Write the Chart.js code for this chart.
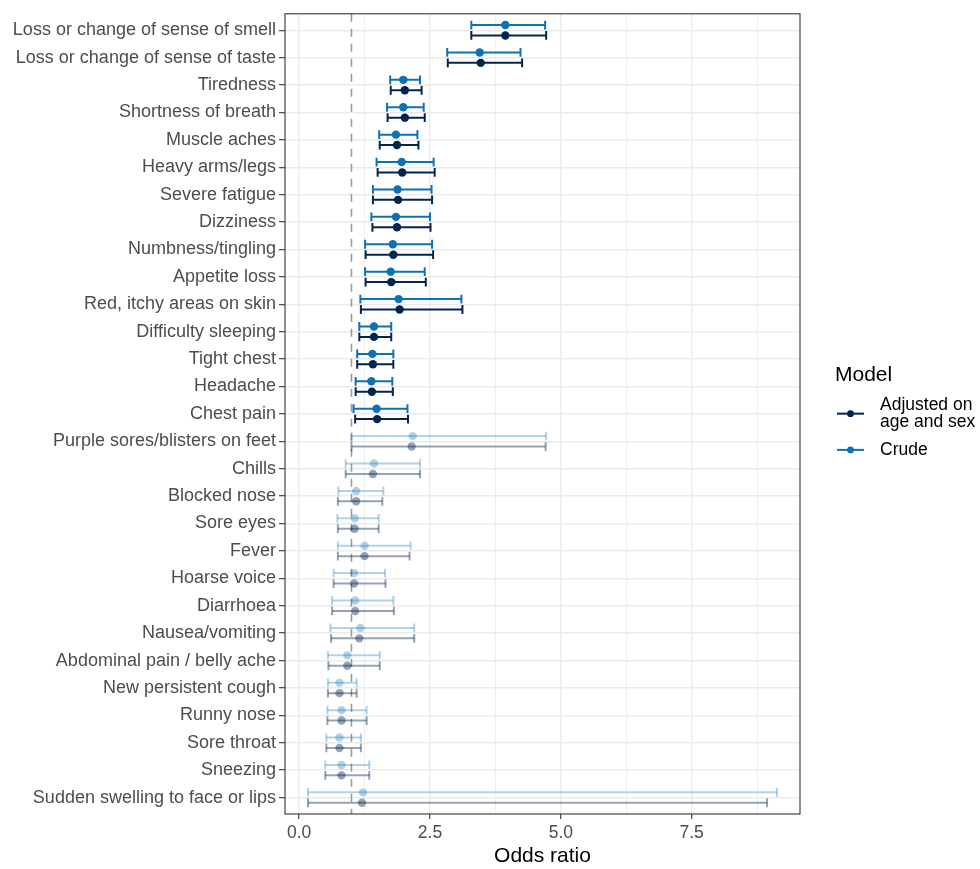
<!doctype html>
<html lang="en">
<head>
<meta charset="utf-8">
<title>Odds ratios by symptom</title>
<script src="https://cdn.jsdelivr.net/npm/chart.js@4.4.1/dist/chart.umd.min.js"></script>
<style>
  html, body { margin: 0; padding: 0; background: #fff; }
  #wrap { width: 980px; height: 869px; }
</style>
</head>
<body>
<div id="wrap"><canvas id="orChart"></canvas></div>
<script>
// symptoms, top to bottom
const symptoms = [
  'Loss or change of sense of smell',
  'Loss or change of sense of taste',
  'Tiredness',
  'Shortness of breath',
  'Muscle aches',
  'Heavy arms/legs',
  'Severe fatigue',
  'Dizziness',
  'Numbness/tingling',
  'Appetite loss',
  'Red, itchy areas on skin',
  'Difficulty sleeping',
  'Tight chest',
  'Headache',
  'Chest pain',
  'Purple sores/blisters on feet',
  'Chills',
  'Blocked nose',
  'Sore eyes',
  'Fever',
  'Hoarse voice',
  'Diarrhoea',
  'Nausea/vomiting',
  'Abdominal pain / belly ache',
  'New persistent cough',
  'Runny nose',
  'Sore throat',
  'Sneezing',
  'Sudden swelling to face or lips'
];

// crude model
const crudeOR   = [3.94, 3.45, 1.99, 1.99, 1.85, 1.96, 1.88, 1.85, 1.79, 1.75, 1.90, 1.43, 1.40, 1.38, 1.48,
                   2.17, 1.43, 1.09, 1.06, 1.25, 1.05, 1.07, 1.17, 0.92, 0.77, 0.81, 0.77, 0.81, 1.22];
const crudeLow  = [3.29, 2.83, 1.74, 1.68, 1.53, 1.48, 1.41, 1.38, 1.26, 1.26, 1.17, 1.15, 1.11, 1.08, 1.04,
                   1.00, 0.89, 0.75, 0.73, 0.74, 0.66, 0.63, 0.60, 0.55, 0.55, 0.54, 0.52, 0.50, 0.17];
const crudeHigh = [4.70, 4.23, 2.31, 2.38, 2.26, 2.57, 2.53, 2.50, 2.54, 2.40, 3.10, 1.76, 1.80, 1.78, 2.07,
                   4.72, 2.31, 1.61, 1.52, 2.13, 1.64, 1.80, 2.20, 1.54, 1.10, 1.29, 1.18, 1.34, 9.13];

// adjusted on age and sex
const adjOR   = [3.94, 3.47, 2.02, 2.02, 1.87, 1.97, 1.89, 1.87, 1.80, 1.76, 1.92, 1.43, 1.41, 1.39, 1.49,
                 2.15, 1.41, 1.09, 1.06, 1.25, 1.05, 1.07, 1.15, 0.92, 0.77, 0.81, 0.77, 0.81, 1.20];
const adjLow  = [3.29, 2.84, 1.75, 1.69, 1.54, 1.50, 1.41, 1.40, 1.27, 1.27, 1.18, 1.15, 1.11, 1.08, 1.07,
                 1.00, 0.89, 0.74, 0.74, 0.74, 0.66, 0.63, 0.61, 0.56, 0.55, 0.54, 0.52, 0.50, 0.17];
const adjHigh = [4.72, 4.26, 2.34, 2.40, 2.28, 2.59, 2.54, 2.51, 2.56, 2.42, 3.12, 1.76, 1.80, 1.79, 2.08,
                 4.71, 2.31, 1.59, 1.52, 2.11, 1.65, 1.81, 2.20, 1.54, 1.10, 1.29, 1.18, 1.34, 8.94];

const xMajorTicks = [0, 2.5, 5, 7.5];
const xMinorTicks = [1.25, 3.75, 6.25, 8.75];
const refLine = 1;

const ADJ = '#04244c';
const CRUDE = '#0b72b3';
const ADJ_FADED = 'rgba(4,36,76,0.42)';
const CRUDE_FADED = 'rgba(11,114,179,0.32)';
const DODGE = 0.19;
const FONT = '"Liberation Sans", Arial, sans-serif';

// highlighted rows: adjusted CI entirely above 1
const signif = adjLow.map((lo, i) => lo > 1 || adjHigh[i] < 1);

function rowColor(i, solid, faded) {
  return signif[i] ? solid : faded;
}

function barPoints(low, high, shift) {
  const pts = [];
  symptoms.forEach((s, i) => {
    pts.push({x: low[i], y: i + shift}, {x: high[i], y: i + shift}, {x: null, y: null});
  });
  return pts;
}

function errorBars(label, low, high, shift, solid, faded) {
  return {
    label: label,
    data: barPoints(low, high, shift),
    showLine: true,
    borderWidth: 2,
    borderColor: solid,
    segment: { borderColor: ctx => rowColor(Math.floor(ctx.p0DataIndex / 3), solid, faded) },
    pointStyle: 'line',
    pointRotation: 90,
    pointRadius: 4.4,
    pointBorderWidth: 2,
    pointBorderColor: ctx => rowColor(Math.floor(ctx.dataIndex / 3), solid, faded),
    pointBackgroundColor: 'transparent'
  };
}

function estimates(label, values, shift, solid, faded) {
  return {
    label: label,
    data: values.map((v, i) => ({x: v, y: i + shift})),
    pointRadius: 4.2,
    pointBorderWidth: 0,
    pointBackgroundColor: ctx => rowColor(ctx.dataIndex, solid, faded)
  };
}

// panel border like theme_bw
const panelBox = {
  id: 'panelBox',
  afterDraw(chart) {
    const {ctx, chartArea: a} = chart;
    ctx.save();
    ctx.strokeStyle = '#333333';
    ctx.lineWidth = 1.1;
    ctx.strokeRect(a.left, a.top, a.right - a.left, a.bottom - a.top);
    ctx.restore();
  }
};

// legend on the right: title + line/point keys
const modelLegend = {
  id: 'modelLegend',
  afterDraw(chart) {
    const {ctx, chartArea: a} = chart;
    const x0 = a.right + 35;
    const mid = (a.top + a.bottom) / 2;
    const items = [
      {lines: ['Adjusted on', 'age and sex'], color: ADJ},
      {lines: ['Crude'], color: CRUDE}
    ];
    ctx.save();
    ctx.fillStyle = '#000';
    ctx.textBaseline = 'middle';
    ctx.font = '21px ' + FONT;
    ctx.fillText('Model', x0, mid - 39);
    ctx.font = '17.5px ' + FONT;
    let y = mid - 9;
    items.forEach(it => {
      const h = it.lines.length * 17.5;
      const cy = y + (it.lines.length - 1) * 17.5 / 2;
      ctx.strokeStyle = it.color;
      ctx.lineWidth = 2;
      ctx.beginPath();
      ctx.moveTo(x0 + 2, cy);
      ctx.lineTo(x0 + 29, cy);
      ctx.stroke();
      ctx.fillStyle = it.color;
      ctx.beginPath();
      ctx.arc(x0 + 15.5, cy, 3.4, 0, Math.PI * 2);
      ctx.fill();
      ctx.fillStyle = '#000';
      it.lines.forEach((t, k) => ctx.fillText(t, x0 + 45, y + k * 17.5));
      y += h + 10;
    });
    ctx.restore();
  }
};

const isMajor = v => xMajorTicks.includes(v);

new Chart(document.getElementById('orChart'), {
  type: 'scatter',
  data: {
    datasets: [
      estimates('Crude', crudeOR, -DODGE, CRUDE, CRUDE_FADED),
      estimates('Adjusted on age and sex', adjOR, DODGE, ADJ, ADJ_FADED),
      errorBars('Crude CI', crudeLow, crudeHigh, -DODGE, CRUDE, CRUDE_FADED),
      errorBars('Adjusted CI', adjLow, adjHigh, DODGE, ADJ, ADJ_FADED),
      {
        label: 'OR = 1',
        data: [{x: refLine, y: -0.6}, {x: refLine, y: symptoms.length - 0.4}],
        showLine: true,
        borderColor: '#9b9b9b',
        borderWidth: 1.6,
        borderDash: [8, 7],
        pointRadius: 0
      }
    ]
  },
  options: {
    responsive: true,
    maintainAspectRatio: false,
    animation: false,
    events: [],
    layout: { padding: { top: 9, right: 180, bottom: 0, left: 0 } },
    plugins: {
      legend: { display: false },
      tooltip: { enabled: false }
    },
    scales: {
      x: {
        type: 'linear',
        min: -0.27,
        max: 9.57,
        afterBuildTicks: s => {
          s.ticks = xMajorTicks.concat(xMinorTicks).sort((a, b) => a - b).map(v => ({value: v}));
        },
        afterFit: s => { s.height = 55; },
        ticks: {
          autoSkip: false,
          maxRotation: 0,
          padding: 4,
          color: '#4d4d4d',
          font: { family: FONT, size: 17.5 },
          callback: v => isMajor(v) ? v.toFixed(1) : ''
        },
        grid: {
          color: '#ebebeb',
          lineWidth: ctx => (ctx.tick && isMajor(ctx.tick.value)) ? 1.4 : 0.8,
          tickColor: ctx => (ctx.tick && isMajor(ctx.tick.value)) ? '#333333' : 'rgba(0,0,0,0)',
          tickLength: 5,
          tickWidth: 1.1
        },
        border: { display: false },
        title: {
          display: true,
          text: 'Odds ratio',
          color: '#000',
          font: { family: FONT, size: 21 },
          padding: { top: 2, bottom: 0 }
        }
      },
      y: {
        type: 'linear',
        reverse: true,
        min: -0.6,
        max: symptoms.length - 0.4,
        afterBuildTicks: s => { s.ticks = symptoms.map((n, i) => ({value: i})); },
        afterFit: s => { s.width = 285; },
        ticks: {
          autoSkip: false,
          padding: 3,
          color: '#4d4d4d',
          font: { family: FONT, size: 18 },
          callback: v => symptoms[v]
        },
        grid: {
          color: '#ebebeb',
          lineWidth: 1.4,
          tickColor: '#333333',
          tickLength: 6,
          tickWidth: 1.1
        },
        border: { display: false }
      }
    }
  },
  plugins: [panelBox, modelLegend]
});
</script>
</body>
</html>
